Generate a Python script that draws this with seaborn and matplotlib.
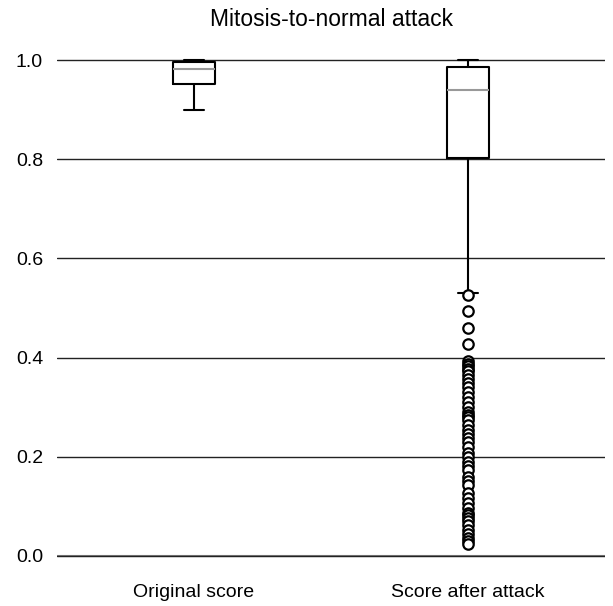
import numpy as np
import pandas as pd
import matplotlib
matplotlib.use("Agg")
import matplotlib.pyplot as plt
import seaborn as sns

# categories
groups = ["Original score", "Score after attack"]

# original scores (read from the box: whisker 0.90, q1 0.952, median 0.982, q3 0.995, max 1.0)
original_values = [0.900, 0.952, 0.952, 0.982, 0.995, 0.995, 1.000]

# low outliers of the attacked scores
attack_low = [0.526, 0.493, 0.459, 0.427, 0.393, 0.388, 0.383, 0.378, 0.372, 0.365,
              0.357, 0.349, 0.340, 0.331, 0.321, 0.310, 0.300, 0.290, 0.285, 0.280,
              0.274, 0.265, 0.254, 0.246, 0.238, 0.229, 0.220, 0.208, 0.199, 0.190,
              0.181, 0.173, 0.160, 0.151, 0.143, 0.127, 0.117, 0.107, 0.097, 0.087,
              0.082, 0.077, 0.070, 0.062, 0.052, 0.044, 0.036, 0.030, 0.024]

# attacked scores inside the whiskers, as a frequency table
attack_values = [0.530, 0.58, 0.64, 0.70, 0.74, 0.77, 0.79, 0.803, 0.83, 0.86,
                 0.90, 0.92, 0.940, 0.95, 0.97, 0.986, 0.99, 1.000]
attack_counts = [1, 1, 1, 1, 1, 1, 1, 1, 10, 15,
                 15, 15, 1, 20, 35, 1, 30, 26]

attack_all = list(attack_low) + list(np.repeat(attack_values, attack_counts))
df = pd.DataFrame({
    "group": [groups[0]] * len(original_values) + [groups[1]] * len(attack_all),
    "score": list(original_values) + attack_all,
})

sns.set_theme(style="white")
plt.rcParams["font.family"] = ["Liberation Sans", "DejaVu Sans"]
plt.rcParams["text.color"] = "black"
plt.rcParams["xtick.color"] = "black"
plt.rcParams["ytick.color"] = "black"

fig, ax = plt.subplots(figsize=(6.13, 6.06), dpi=100)

line = dict(color="black", linewidth=1.5)
sns.boxplot(data=df, x="group", y="score", order=groups, ax=ax, width=0.15,
            fill=False, color="black",
            boxprops=line, whiskerprops=line, capprops=line,
            medianprops=dict(color="#999999", linewidth=1.5),
            flierprops=dict(marker="o", markerfacecolor="white",
                            markeredgecolor="black", markersize=7.5,
                            markeredgewidth=1.6))

ax.set_xlim(-0.5, 1.5)
ax.set_ylim(-0.04, 1.04)
ax.set_yticks([0.0, 0.2, 0.4, 0.6, 0.8, 1.0])
ax.set_yticklabels(["0.0", "0.2", "0.4", "0.6", "0.8", "1.0"])
ax.yaxis.grid(True, color="#222222", linewidth=1.0)
ax.set_axisbelow(True)
for s in ["top", "right", "left", "bottom"]:
    ax.spines[s].set_visible(False)
ax.axhline(0.0, color="#808080", linewidth=1.5, zorder=0)

ax.tick_params(axis="both", labelsize=14, length=0, labelcolor="black")
ax.tick_params(axis="y", pad=10)
ax.tick_params(axis="x", pad=6)
ax.set_xlabel("")
ax.set_ylabel("")
ax.set_title("Mitosis-to-normal attack", fontsize=16.5, pad=10, color="black")

plt.subplots_adjust(left=0.093, right=0.987, top=0.9337, bottom=0.0498)
fig.savefig("out.png", dpi=100)
